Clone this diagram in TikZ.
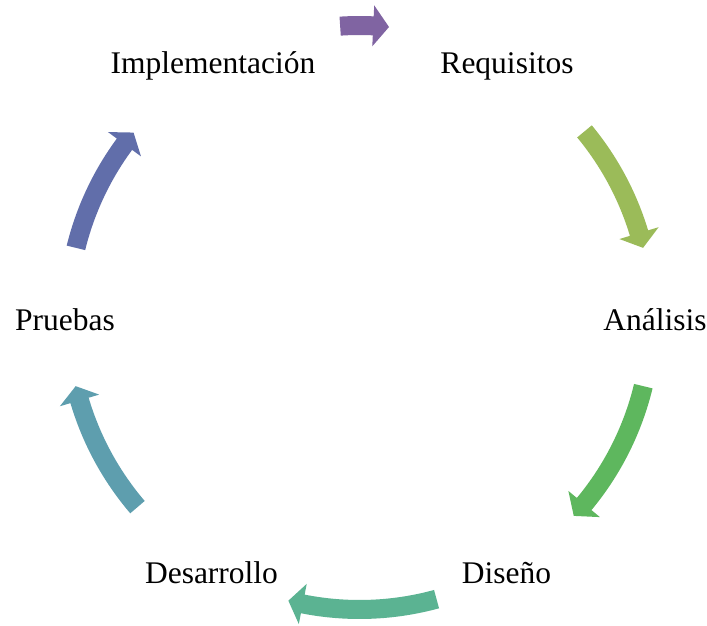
\documentclass[tikz,border=0pt]{standalone}
\usepackage{fontspec}
\setmainfont{Liberation Serif}
\definecolor{cA}{HTML}{8064A2}
\definecolor{cB}{HTML}{9BBB59}
\definecolor{cC}{HTML}{5EB75E}
\definecolor{cD}{HTML}{5BB392}
\definecolor{cE}{HTML}{5E9EAE}
\definecolor{cF}{HTML}{616EAA}
\tikzset{
  lbl/.style={anchor=base, inner sep=0pt, font=\fontsize{31.5}{38}\selectfont},
}
% #1 colour, #2 start angle, #3 head-base angle, #4 tip angle
\newcommand{\cycarrow}[4]{%
  \fill[#1] (#2:301.5pt) arc[start angle=#2, end angle=#3, radius=301.5pt]
     -- (#3:312.5pt) -- (#4:292pt) -- (#3:271.5pt) -- (#3:282.5pt)
     arc[start angle=#3, end angle=#2, radius=282.5pt] -- cycle;}
\begin{document}
\begin{tikzpicture}
\path[use as bounding box] (0,0) rectangle (707pt,625pt);
\coordinate (C) at (359.5pt,307.5pt);
\node[lbl] (impl) at (213pt,551.7pt) {Implementación};
\node[lbl] (req)  at (507pt,551.7pt) {Requisitos};
\node[lbl] (ana)  at (655pt,295pt) {Análisis};
\node[lbl] (dis)  at (506.5pt,41.7pt) {Diseño};
\node[lbl] (des)  at (211.5pt,41.7pt) {Desarrollo};
\node[lbl] (pru)  at (65pt,295pt) {Pruebas};
\begin{scope}[shift={(C)}]
  \cycarrow{cA}{93.8}{87.3}{84.2}
  \cycarrow{cB}{39.6}{16.8}{13.8}
  \cycarrow{cC}{-13.6}{-39.7}{-42.8}
  \cycarrow{cD}{-74.7}{-101.2}{-104.1}
  \cycarrow{cE}{-139.5}{-163.5}{-166.4}
  \cycarrow{cF}{166.2}{143.6}{140.7}
\end{scope}
\end{tikzpicture}
\end{document}
